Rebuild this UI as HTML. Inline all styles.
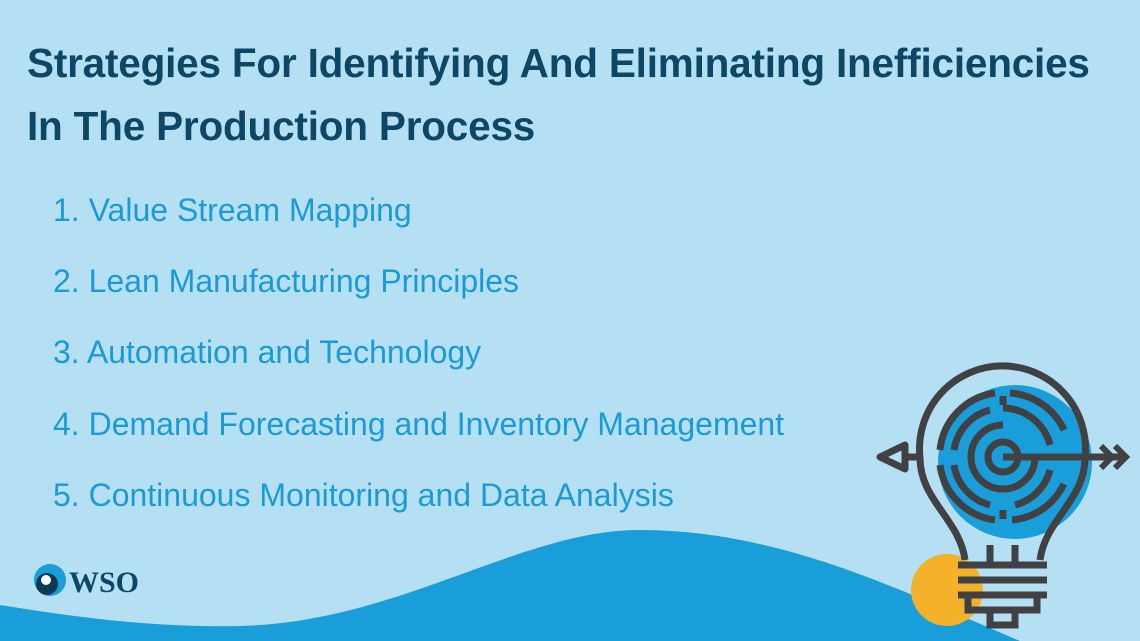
<!DOCTYPE html><html><head><style>
body{margin:0;width:1140px;height:641px;overflow:hidden;background:#b5e0f3;font-family:"Liberation Sans",sans-serif;position:relative}
h1{position:absolute;left:27px;top:32px;margin:0;font-size:40.5px;line-height:63px;color:#0e4766;font-weight:bold;letter-spacing:-0.2px}
.li{position:absolute;left:53px;font-size:32px;color:#1a9bd7;line-height:36px}
</style></head><body>
<h1>Strategies For Identifying And Eliminating Inefficiencies<br>In The Production Process</h1>
<div class="li" style="top:192px">1. Value Stream Mapping</div>
<div class="li" style="top:263px">2. Lean Manufacturing Principles</div>
<div class="li" style="top:334px">3. Automation and Technology</div>
<div class="li" style="top:406px">4. Demand Forecasting and Inventory Management</div>
<div class="li" style="top:477px">5. Continuous Monitoring and Data Analysis</div>
<svg width="1140" height="641" style="position:absolute;left:0;top:0">
<path d="M0,605 C80,618 160,628 240,626 C400,622 520,530 640,530 C780,530 900,590 1020,641 L0,641Z" fill="#1a9ed9"/>
<circle cx="1015" cy="462" r="77" fill="#1a9ed9"/>
<circle cx="947" cy="590" r="36" fill="#f4b12a"/>
<g fill="none" stroke="#414042" stroke-width="7">
<path d="M965,560 C960,520 920,500 920,458 A83,83 0 1 1 1085,458 C1085,500 1045,520 1040,560"/>
<circle cx="1003" cy="457" r="15"/>
<path d="M1003,425 A32,32 0 1 0 1035,457"/>
<path d="M1003,408 A49,49 0 0 1 1050,445 M1050,470 A49,49 0 0 1 1015,505 M990,505 A49,49 0 0 1 954,465 M954,450 A49,49 0 0 1 990,410"/>
<path d="M1010,393 A64,64 0 0 1 1064,430 M1064,484 A64,64 0 0 1 1012,520 M995,520 A64,64 0 0 1 940,465 M940,450 A64,64 0 0 1 995,393"/>
<path d="M1003,396 V405 M1003,510 V519"/>
<path d="M1003,457 H1122"/>
<path d="M1101,446 L1112,457 L1101,468 M1115,446 L1126,457 L1115,468" stroke-width="6"/>
<path d="M920,457 H905 M905,445 L880,457 L905,469 Z" stroke-linejoin="round"/>
<path d="M990,545 V562 M1015,545 V562"/>
<path d="M958,565 H1047 M958,580 H1047 M958,595 H1047"/>
<path d="M968,598 V610 H1037 V598 M990,610 V625 H1015 V610"/>
</g>
<circle cx="50" cy="580" r="16" fill="#1a9ed9"/>
<circle cx="47" cy="584" r="11" fill="#0e3a55"/>
<circle cx="46" cy="580" r="5" fill="#fff"/>
<text x="69" y="592" font-family="Liberation Serif,serif" font-weight="bold" font-size="30" fill="#0e4766">WSO</text>
</svg>
</body></html>
